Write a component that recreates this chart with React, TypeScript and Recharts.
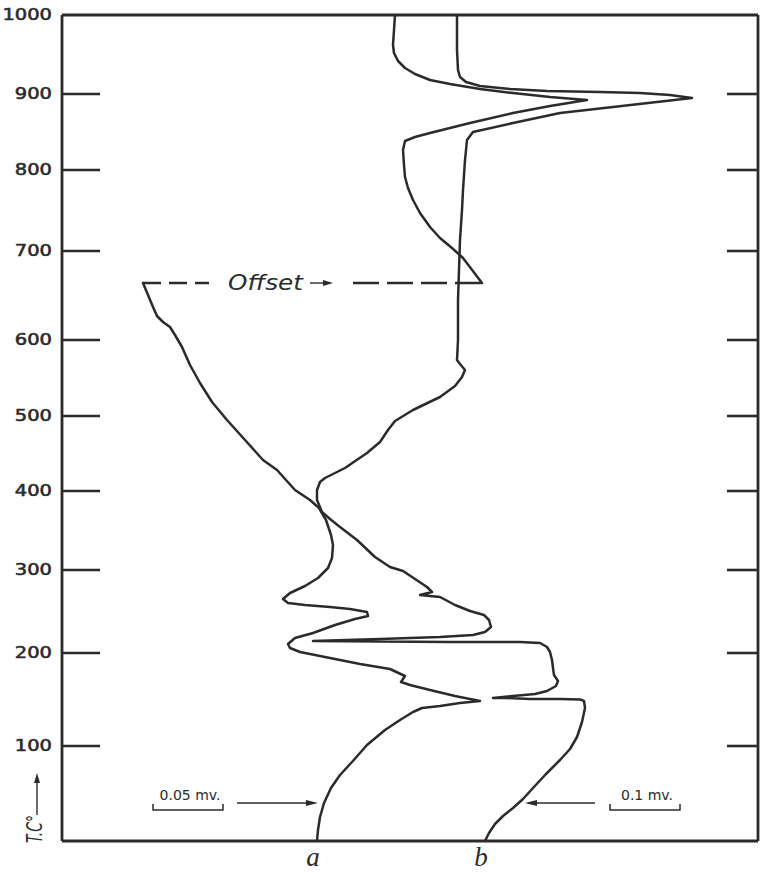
import React from "react";
import { ScatterChart, Scatter, XAxis, YAxis, ReferenceLine, Label } from "recharts";

// Record coordinates: x = pen deflection, y = distance along the record (chart units).
// Temperatures were marked on the record at these positions.
const tempLabels = [100, 200, 300, 400, 500, 600, 700, 800, 900, 1000];
const tempMarkPos = [23.75, 47, 67.75, 87.5, 106.25, 125.25, 147.5, 167.75, 186.75, 206.5];

// curve a, 0 °C up to the pen offset
const curveALower: [number, number][] = [
  [63.75, 0], [64, 2.75], [64.5, 6], [65.5, 9.5], [67.25, 13.25], [69.5, 16.5], [72.5, 19.75],
  [76.25, 24], [80.75, 27.75], [84.5, 30.25], [87.75, 32.25], [90, 33.25], [94.5, 33.75],
  [99.5, 34.5], [104.5, 35], [98.25, 36.25], [92, 37.75], [87, 39], [84.75, 39.75], [85.75, 41.25],
  [82, 43], [74.5, 44.25], [67, 45.75], [59.5, 47.25], [57, 48.25], [56.5, 49.25], [58.25, 50.75],
  [62.75, 52], [68.25, 54], [73.25, 55.5], [76.5, 56.25], [76.25, 57.25], [72, 58], [67, 58.5],
  [60.75, 59], [56.5, 59.5], [55.25, 60.5], [57, 62], [60.75, 63.75], [64, 65.75], [66.5, 68.25],
  [67.5, 70.75], [67.75, 74], [67.25, 76.5], [66, 80.25], [64.25, 83.25], [62, 85.25],
  [58.25, 87.75], [53.75, 92.75], [50.25, 95.25], [45.75, 100.25], [41.25, 105.25], [37.5, 109.75],
  [34.5, 114.5], [32, 119], [30, 123.5], [28.25, 126.5], [27, 128.5], [25.25, 129.75],
  [23.75, 131.25], [22.75, 133.5], [21.5, 136.5], [20.25, 139.5],
];

// curve a, after the offset, up to 1000 °C
const curveAUpper: [number, number][] = [
  [105, 139.5], [100.25, 145.75], [97.5, 148.25], [94.5, 150.75], [92, 153.5], [89.5, 157],
  [87.75, 160.25], [86.5, 163.25], [85.75, 166], [85.5, 169], [85.25, 172.75], [85.75, 175],
  [88.25, 176], [92, 177], [102, 179.5], [112.75, 182], [122, 183.75], [131.25, 185.25],
  [122, 186], [112.75, 187], [104.5, 188], [97, 189.25], [92, 190.25], [88.25, 191.75],
  [85.75, 193.25], [84, 195], [83, 197], [82.75, 199], [83, 202.75], [83.25, 206.5],
];

// curve b
const curveB: [number, number][] = [
  [105.75, 0], [106.75, 2], [108.25, 4.25], [110.25, 6.25], [112.75, 8.25], [115.25, 10.5],
  [117.75, 13.25], [121, 16.75], [124.5, 20.25], [127, 23], [128.75, 26], [130, 29.75],
  [130.75, 33.25], [130.5, 35], [129.5, 35.4],
  [124.5, 35.5], [117, 35.5], [110.75, 35.75], [107.75, 35.75], [112.75, 36.25], [118.25, 36.75],
  [121.25, 37.5], [123.5, 38.75], [124, 40], [123, 41.5], [122.75, 43.25], [122.5, 45.25],
  [122, 47.25], [121.25, 48.5], [119.5, 49.5], [114.5, 49.75], [97, 49.75], [79.5, 49.9],
  [62.75, 50], [79.5, 50.5], [94.5, 51], [102.75, 51.5], [105.75, 52.25], [107.25, 53.5],
  [106.75, 55.25], [105.5, 56.5], [102, 57.5], [98.25, 59], [94.5, 61], [89.5, 61.5], [92.5, 62.25],
  [91.25, 63.5], [88.25, 65.5], [85.25, 67.5], [82, 68.5], [78.25, 71], [73.75, 75.25], [69.5, 78.5],
  [67, 80.5], [65, 82.25], [63.75, 85.25], [63.75, 87.75], [64.5, 89.75], [65.75, 90.75],
  [70.75, 93.25], [76.25, 97], [79.5, 99.75], [81.5, 102.75], [83.25, 105], [87.75, 107.75],
  [94.5, 111], [98.25, 113.75], [100, 116], [100.75, 117.75], [99.5, 119.25], [98.75, 120.25],
  [99, 125.25], [99, 135.25], [99.25, 142.75], [99.5, 150.25], [100, 157.75], [100.25, 162.75],
  [100.75, 170.25], [101.25, 175.25], [102.75, 177.25], [112.75, 179.5], [124.5, 182],
  [137.75, 183.5], [157.5, 185.75], [152, 186.5], [144.5, 187], [134.5, 187.25], [121.25, 187.5],
  [112, 188], [104.5, 188.75], [101, 189.75], [99.5, 191], [99, 192.75], [98.75, 197.75],
  [98.75, 206.5],
];

const curveNames = ["a", "b"];

// sensitivity bars and pointers near the foot of the record
const scaleBarText = ["0.05 mv.", "0.1 mv."];
const scaleBarFrom = [22.75, 137];
const scaleBarTo = [40.25, 154.5];
const scaleBarY = 7.75;
const pointerFrom = [43.75, 133.25];
const pointerTo = [64, 115.75];
const pointerY = 9.5;

const INK = "#2b2b2b";
const X_MAX = 174;
const Y_MAX = 206.5;

const toPts = (arr: [number, number][]) => arr.map(([x, y]) => ({ x, y }));
const footX = [curveALower[0][0], curveB[0][0]];

function TempTick(props: any) {
  const { x, y, payload } = props;
  const temp = tempLabels[tempMarkPos.indexOf(payload.value)];
  const axisX = x + 10;
  return (
    <g>
      {temp < 1000 && (
        <line x1={axisX} y1={y} x2={axisX + 38} y2={y} stroke={INK} strokeWidth={2.6} />
      )}
      <text
        transform={`translate(${x},${y}) scale(1.3,1)`}
        textAnchor="end"
        dy="0.36em"
        fontFamily="DejaVu Sans"
        fontSize={15}
        fill={INK}
        stroke={INK}
        strokeWidth={0.55}
      >
        {temp}
      </text>
    </g>
  );
}

function RightTick(props: any) {
  const { x, y, payload } = props;
  if (payload.value >= Y_MAX) return <g />;
  return <line x1={x - 31} y1={y} x2={x} y2={y} stroke={INK} strokeWidth={2.6} />;
}

function CurveTick(props: any) {
  const { x, y, payload } = props;
  const name = curveNames[footX.indexOf(payload.value)];
  return (
    <text
      x={x - 4}
      y={y + 25}
      textAnchor="middle"
      fontFamily="Liberation Serif"
      fontStyle="italic"
      fontSize={27}
      fill={INK}
    >
      {name}
    </text>
  );
}

function TempTitle(props: any) {
  const vb = props.viewBox || { x: 0, y: 15, width: 62, height: 826 };
  const bx = vb.x + 42;
  const by = vb.y + vb.height + 2;
  const ax = vb.x + 37;
  return (
    <g>
      <text
        transform={`translate(${bx},${by}) rotate(-90)`}
        fontFamily="DejaVu Sans"
        fontStyle="italic"
        fontSize={21}
        textLength={28}
        lengthAdjust="spacingAndGlyphs"
        fill={INK}
      >
        T.C°
      </text>
      <line x1={ax} y1={by - 28} x2={ax} y2={by - 64} stroke={INK} strokeWidth={1.4} />
      <polygon points={`${ax},${by - 70} ${ax - 3},${by - 60} ${ax + 3},${by - 60}`} fill={INK} />
    </g>
  );
}

function Pointer(props: any) {
  const { x1, y1, x2, y2 } = props;
  const dir = x2 > x1 ? 1 : -1;
  return (
    <g>
      <line x1={x1} y1={y1} x2={x2 - dir * 8} y2={y2} stroke={INK} strokeWidth={1.3} />
      <polygon
        points={`${x2},${y2} ${x2 - dir * 12},${y2 - 3} ${x2 - dir * 12},${y2 + 3}`}
        fill={INK}
      />
    </g>
  );
}

function scaleBar(text: string) {
  return (props: any) => {
    const { x1, y1, x2 } = props;
    return (
      <g>
        <path
          d={`M${x1},${y1 - 6} L${x1},${y1} L${x2},${y1} L${x2},${y1 - 6}`}
          stroke={INK}
          strokeWidth={1.5}
          fill="none"
        />
        <text
          x={(x1 + x2) / 2 + 2}
          y={y1 - 10}
          textAnchor="middle"
          fontFamily="DejaVu Sans"
          fontSize={14}
          fill={INK}
        >
          {text}
        </text>
      </g>
    );
  };
}

function OffsetConnector(props: any) {
  const { x1, y1, x2 } = props;
  const left = Math.min(x1, x2);
  const right = Math.max(x1, x2);
  return (
    <g>
      <line x1={left} y1={y1} x2={left + 66} y2={y1} stroke={INK} strokeWidth={2.4} strokeDasharray="18 8" />
      <text
        x={left + 85}
        y={y1 + 7}
        fontFamily="DejaVu Sans"
        fontStyle="italic"
        fontSize={22}
        textLength={75}
        lengthAdjust="spacingAndGlyphs"
        fill={INK}
      >
        Offset
      </text>
      <line x1={left + 167} y1={y1} x2={left + 182} y2={y1} stroke={INK} strokeWidth={1.4} />
      <polygon points={`${left + 190},${y1} ${left + 180},${y1 - 3} ${left + 180},${y1 + 3}`} fill={INK} />
      <line x1={left + 210} y1={y1} x2={right} y2={y1} stroke={INK} strokeWidth={2.4} strokeDasharray="26 8" />
    </g>
  );
}

const noDot = () => <g />;
const curveLine = { strokeWidth: 2.5, strokeLinejoin: "round", strokeLinecap: "round" };

export default function App() {
  const aLow = toPts(curveALower);
  const aUp = toPts(curveAUpper);
  const b = toPts(curveB);
  const offStart = aLow[aLow.length - 1];
  const offEnd = aUp[0];

  return (
    <div style={{ position: "absolute", left: 0, top: 0, width: 760, height: 872, background: "#fff" }}>
      <ScatterChart width={760} height={872} margin={{ top: 15, right: 0, bottom: 0, left: 0 }}>
        <XAxis
          type="number"
          dataKey="x"
          domain={[0, X_MAX]}
          allowDataOverflow
          ticks={footX}
          interval={0}
          tick={<CurveTick />}
          tickLine={false}
          tickSize={0}
          tickMargin={0}
          height={31}
          axisLine={{ stroke: INK, strokeWidth: 2.8 }}
        />
        <YAxis
          type="number"
          dataKey="y"
          domain={[0, Y_MAX]}
          allowDataOverflow
          ticks={tempMarkPos}
          interval={0}
          tick={<TempTick />}
          tickLine={false}
          tickSize={0}
          tickMargin={10}
          width={62}
          axisLine={{ stroke: INK, strokeWidth: 2.8 }}
        >
          <Label content={<TempTitle />} />
        </YAxis>
        <YAxis
          yAxisId="right"
          orientation="right"
          type="number"
          domain={[0, Y_MAX]}
          allowDataOverflow
          ticks={tempMarkPos}
          interval={0}
          tick={<RightTick />}
          tickLine={false}
          tickSize={0}
          tickMargin={0}
          width={2}
          axisLine={{ stroke: INK, strokeWidth: 2.8 }}
        />
        <ReferenceLine y={Y_MAX} stroke={INK} strokeWidth={2.8} />

        <ReferenceLine
          segment={[offStart, offEnd]}
          shape={(p: any) => <OffsetConnector {...p} />}
        />
        {scaleBarText.map((t, i) => (
          <ReferenceLine
            key={"bar" + i}
            segment={[
              { x: scaleBarFrom[i], y: scaleBarY },
              { x: scaleBarTo[i], y: scaleBarY },
            ]}
            shape={scaleBar(t)}
          />
        ))}
        {pointerFrom.map((f, i) => (
          <ReferenceLine
            key={"ptr" + i}
            segment={[
              { x: f, y: pointerY },
              { x: pointerTo[i], y: pointerY },
            ]}
            shape={(p: any) => <Pointer {...p} />}
          />
        ))}

        <Scatter name="a-lower" data={aLow} fill={INK} line={curveLine} lineJointType="linear"
          shape={noDot} isAnimationActive={false} />
        <Scatter name="a-upper" data={aUp} fill={INK} line={curveLine} lineJointType="linear"
          shape={noDot} isAnimationActive={false} />
        <Scatter name="b" data={b} fill={INK} line={curveLine} lineJointType="linear"
          shape={noDot} isAnimationActive={false} />
      </ScatterChart>
    </div>
  );
}
